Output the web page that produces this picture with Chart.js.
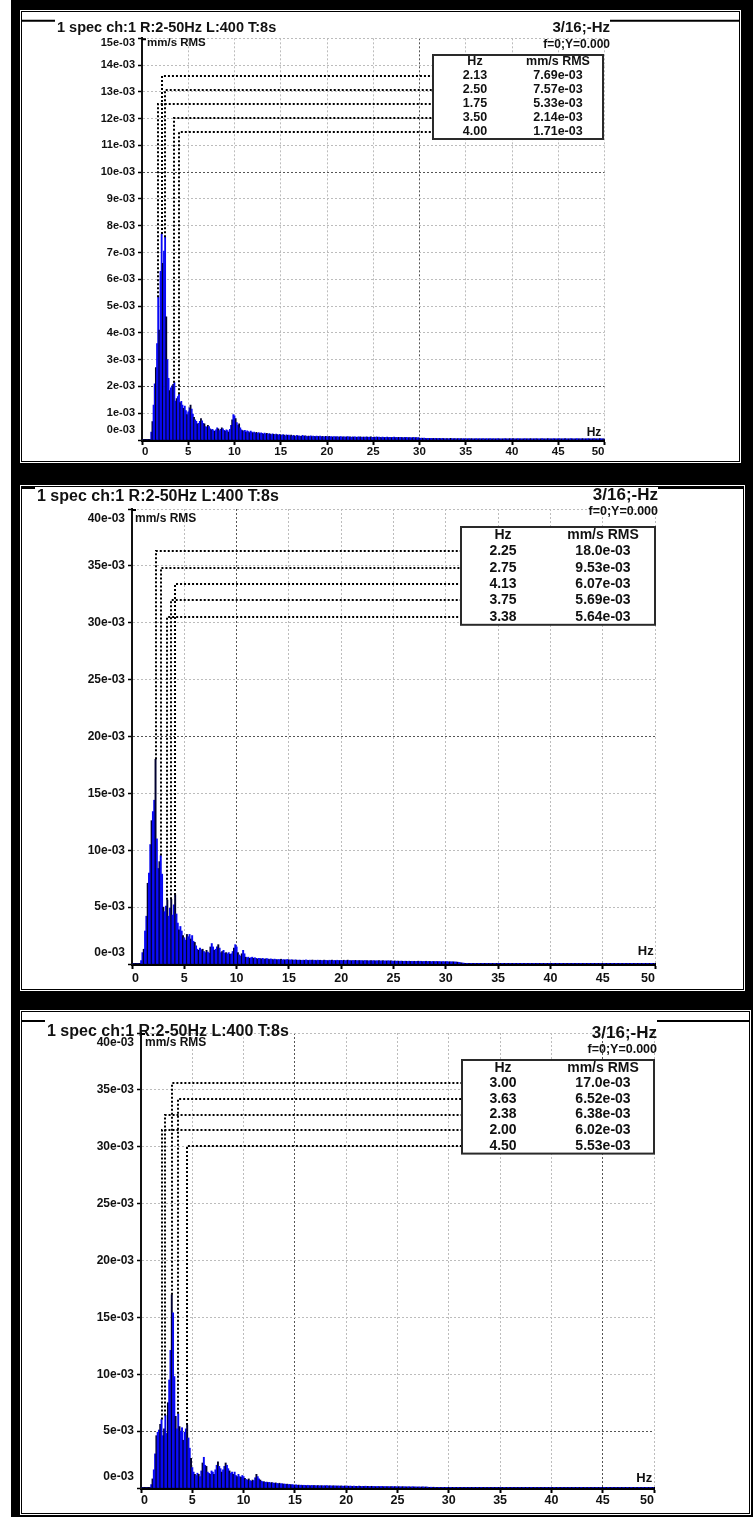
<!DOCTYPE html>
<html>
<head>
    <title>Spectrum captures</title>
    <script src="https://cdn.jsdelivr.net/npm/chart.js@4.4.0/dist/chart.umd.min.js"></script>
    <style>
        body { margin: 0; background: #fff; width: 753px; height: 1517px; position: relative; overflow: hidden; }
        .frame { position: absolute; left: 11px; top: 0; width: 742px; height: 1517px; background: #000; }
        .panel { position: absolute; left: 21px; background: #fff; border: 1px solid #000; box-sizing: border-box; box-shadow: 0 0 0 1px #fff; }
        canvas { position: absolute; left: 22px; }
    </style>
</head>
<body>
    <div class="frame"></div>
    <div class="panel" style="top:11px;width:719px;height:451px"></div>
    <div class="panel" style="top:486px;width:723px;height:504px"></div>
    <div class="panel" style="top:1011px;width:729px;height:503px"></div>
    <canvas id="c1" width="717" height="449" style="top:12px"></canvas>
    <canvas id="c2" width="721" height="502" style="top:487px"></canvas>
    <canvas id="c3" width="727" height="501" style="top:1012px"></canvas>

    <script>
        // spectrum lines: L:400 over 0-50 Hz, amplitudes in e-03 mm/s RMS
        const lineHz = 0.125;

        const spec1 = [
            0,0,0,0,0,0,0,0,
            0.30,0.69,1.30,2.10,2.70,3.60,5.33,4.10,
            6.30,7.69,6.60,7.05,7.57,4.60,3.00,2.30,
            1.85,1.95,2.02,2.08,2.14,1.45,1.55,1.62,
            1.71,1.40,1.44,1.30,1.18,1.27,1.10,0.95,
            1.05,1.20,1.30,1.15,0.97,0.85,0.75,0.70,
            0.60,0.62,0.70,0.80,0.72,0.62,0.60,0.50,
            0.48,0.55,0.50,0.42,0.38,0.40,0.35,0.32,
            0.38,0.45,0.42,0.35,0.40,0.45,0.42,0.36,
            0.33,0.38,0.35,0.30,0.40,0.55,0.75,0.95,
            0.90,0.80,0.65,0.55,0.60,0.45,0.38,0.35,
            0.33,0.36,0.30,0.34,0.31,0.28,0.33,0.30,
            0.27,0.30,0.26,0.29,0.25,0.28,0.24,0.27,
            0.25,0.22,0.26,0.23,0.25,0.21,0.24,0.22,
            0.20,0.23,0.21,0.19,0.22,0.20,0.18,0.21,
            0.19,0.17,0.20,0.18,0.16,0.19,0.17,0.18,
            0.16,0.18,0.15,0.17,0.16,0.14,0.17,0.15,
            0.16,0.14,0.15,0.17,0.14,0.16,0.15,0.13,
            0.15,0.14,0.16,0.13,0.15,0.14,0.13,0.15,
            0.14,0.13,0.15,0.12,0.14,0.13,0.12,0.14,
            0.13,0.12,0.14,0.12,0.13,0.11,0.13,0.12,
            0.12,0.13,0.11,0.12,0.13,0.11,0.12,0.12,
            0.11,0.12,0.13,0.11,0.12,0.10,0.12,0.11,
            0.12,0.11,0.10,0.12,0.11,0.12,0.10,0.11,
            0.11,0.10,0.12,0.11,0.10,0.11,0.12,0.10,
            0.10,0.11,0.10,0.12,0.10,0.11,0.10,0.09,
            0.11,0.10,0.09,0.10,0.11,0.09,0.10,0.10,
            0.09,0.10,0.11,0.09,0.10,0.09,0.10,0.09,
            0.10,0.09,0.08,0.10,0.09,0.10,0.08,0.09,
            0.09,0.08,0.09,0.10,0.08,0.09,0.08,0.09,
            0.07,0.06,0.07,0.06,0.07,0.06,0.05,0.06,
            0.06,0.05,0.06,0.05,0.06,0.05,0.06,0.05,
            0.05,0.06,0.05,0.05,0.06,0.05,0.04,0.05,
            0.05,0.04,0.05,0.06,0.05,0.04,0.05,0.05,
            0.04,0.05,0.05,0.04,0.05,0.04,0.05,0.04,
            0.05,0.04,0.04,0.05,0.04,0.05,0.04,0.04,
            0.04,0.05,0.04,0.04,0.05,0.04,0.04,0.05,
            0.04,0.04,0.05,0.04,0.04,0.05,0.04,0.04,
            0.05,0.04,0.04,0.04,0.05,0.04,0.04,0.04,
            0.04,0.04,0.05,0.04,0.04,0.04,0.05,0.04,
            0.04,0.05,0.04,0.04,0.04,0.05,0.04,0.04,
            0.04,0.04,0.04,0.05,0.04,0.04,0.04,0.04,
            0.05,0.04,0.04,0.04,0.04,0.05,0.04,0.04,
            0.04,0.04,0.05,0.04,0.04,0.04,0.04,0.05,
            0.04,0.04,0.04,0.04,0.05,0.04,0.04,0.04,
            0.04,0.05,0.04,0.04,0.04,0.04,0.05,0.04,
            0.04,0.04,0.04,0.05,0.04,0.04,0.04,0.04,
            0.05,0.04,0.04,0.04,0.04,0.05,0.04,0.04,
            0.04,0.04,0.05,0.04,0.04,0.04,0.04,0.05,
            0.04,0.04,0.04,0.04,0.05,0.04,0.04,0.04,
            0.04
        ];

        const spec2 = [
            0,0,0,0,0,0,0,0.30,
            1.00,1.30,2.90,4.20,7.10,8.00,10.5,12.6,
            13.4,14.4,18.0,11.0,8.40,9.00,9.53,7.90,
            5.00,4.60,5.10,5.64,4.20,4.90,5.69,4.30,
            5.20,6.07,4.40,3.60,3.00,3.30,2.90,2.50,
            2.30,2.10,2.60,2.40,2.60,2.20,2.50,2.00,
            1.90,1.60,1.30,1.20,1.40,1.25,1.30,1.10,
            1.00,1.20,1.05,0.95,1.50,1.80,1.50,1.20,
            1.30,1.50,1.70,1.40,1.00,1.10,1.20,0.95,
            1.00,0.90,1.00,0.85,0.90,1.10,1.40,1.70,
            1.50,1.00,0.80,0.70,0.90,1.20,0.90,0.60,
            0.55,0.60,0.50,0.55,0.60,0.50,0.55,0.50,
            0.45,0.50,0.48,0.45,0.50,0.42,0.45,0.48,
            0.44,0.40,0.45,0.42,0.38,0.43,0.40,0.37,
            0.40,0.38,0.42,0.36,0.39,0.35,0.38,0.40,
            0.36,0.34,0.38,0.35,0.33,0.37,0.34,0.32,
            0.35,0.33,0.31,0.34,0.32,0.36,0.33,0.31,
            0.34,0.32,0.35,0.31,0.33,0.30,0.34,0.32,
            0.33,0.31,0.30,0.34,0.32,0.31,0.29,0.33,
            0.31,0.34,0.30,0.32,0.29,0.33,0.31,0.30,
            0.32,0.30,0.33,0.29,0.31,0.34,0.30,0.31,
            0.29,0.31,0.30,0.32,0.28,0.30,0.31,0.29,
            0.30,0.28,0.31,0.29,0.30,0.27,0.29,0.30,
            0.28,0.30,0.27,0.29,0.28,0.30,0.27,0.28,
            0.29,0.27,0.28,0.26,0.29,0.27,0.28,0.26,
            0.25,0.27,0.24,0.26,0.25,0.23,0.26,0.24,
            0.23,0.25,0.24,0.22,0.25,0.23,0.24,0.22,
            0.24,0.22,0.23,0.25,0.22,0.24,0.21,0.23,
            0.22,0.24,0.21,0.23,0.22,0.20,0.23,0.21,
            0.21,0.23,0.20,0.22,0.21,0.19,0.22,0.20,
            0.20,0.21,0.19,0.20,0.18,0.20,0.19,0.17,
            0.18,0.16,0.14,0.12,0.10,0.08,0.07,0.06,
            0.06,0.05,0.06,0.05,0.06,0.05,0.05,0.06,
            0.05,0.06,0.05,0.05,0.06,0.05,0.06,0.05,
            0.06,0.05,0.05,0.06,0.05,0.05,0.06,0.05,
            0.05,0.06,0.05,0.05,0.05,0.06,0.05,0.05,
            0.06,0.05,0.05,0.06,0.05,0.05,0.05,0.06,
            0.05,0.05,0.06,0.05,0.05,0.06,0.05,0.05,
            0.05,0.06,0.05,0.05,0.06,0.05,0.05,0.05,
            0.06,0.05,0.05,0.05,0.06,0.05,0.05,0.06,
            0.05,0.05,0.06,0.05,0.05,0.05,0.06,0.05,
            0.05,0.06,0.05,0.05,0.05,0.06,0.05,0.05,
            0.06,0.05,0.05,0.06,0.05,0.05,0.05,0.06,
            0.05,0.05,0.05,0.06,0.05,0.05,0.06,0.05,
            0.05,0.06,0.05,0.05,0.05,0.06,0.05,0.05,
            0.06,0.05,0.05,0.05,0.06,0.05,0.05,0.05,
            0.05,0.05,0.06,0.05,0.05,0.05,0.06,0.05,
            0.05,0.06,0.05,0.05,0.05,0.05,0.06,0.05,
            0.05,0.05,0.05,0.06,0.05,0.05,0.05,0.05,
            0.06,0.05,0.05,0.05,0.05,0.06,0.05,0.05,
            0.05
        ];

        const spec3 = [
            0,0,0,0,0,0,0,0,
            0.30,0.80,1.60,3.00,4.60,4.90,5.10,5.60,
            6.02,4.60,5.20,6.38,4.80,7.50,9.50,12.1,
            17.0,15.4,9.80,6.30,5.20,6.52,5.40,5.00,
            5.30,4.20,4.90,5.20,5.53,4.40,3.50,2.60,
            1.80,1.40,1.20,1.10,1.30,1.20,1.00,1.50,
            2.20,2.70,2.00,1.90,1.40,1.30,1.20,1.50,
            1.40,1.20,1.60,2.00,2.30,1.90,1.70,1.40,
            1.60,1.90,2.20,2.00,1.70,1.50,1.30,1.40,
            1.20,1.40,1.10,1.00,1.20,1.00,0.95,1.10,
            1.00,0.85,0.75,0.70,0.80,0.65,0.60,0.70,
            0.65,0.90,1.20,1.00,0.80,0.70,0.60,0.55,
            0.55,0.50,0.52,0.48,0.50,0.45,0.48,0.44,
            0.42,0.45,0.40,0.38,0.42,0.36,0.38,0.35,
            0.35,0.32,0.34,0.30,0.32,0.28,0.30,0.27,
            0.25,0.28,0.24,0.26,0.23,0.25,0.22,0.24,
            0.23,0.21,0.24,0.22,0.20,0.23,0.21,0.22,
            0.21,0.20,0.22,0.19,0.21,0.20,0.18,0.21,
            0.19,0.21,0.18,0.20,0.19,0.17,0.20,0.18,
            0.18,0.17,0.19,0.16,0.18,0.17,0.16,0.18,
            0.16,0.18,0.15,0.17,0.16,0.14,0.17,0.15,
            0.15,0.14,0.16,0.15,0.13,0.15,0.14,0.16,
            0.14,0.15,0.13,0.14,0.15,0.13,0.14,0.12,
            0.13,0.14,0.12,0.13,0.14,0.12,0.13,0.12,
            0.12,0.13,0.11,0.12,0.13,0.11,0.12,0.11,
            0.11,0.12,0.10,0.11,0.12,0.10,0.11,0.10,
            0.10,0.11,0.09,0.10,0.11,0.09,0.10,0.09,
            0.09,0.10,0.08,0.09,0.10,0.08,0.09,0.08,
            0.07,0.06,0.07,0.06,0.07,0.05,0.06,0.06,
            0.05,0.06,0.05,0.06,0.05,0.05,0.06,0.05,
            0.05,0.05,0.06,0.05,0.04,0.05,0.05,0.06,
            0.05,0.04,0.05,0.05,0.04,0.05,0.06,0.05,
            0.04,0.05,0.04,0.05,0.05,0.04,0.05,0.04,
            0.05,0.04,0.05,0.04,0.04,0.05,0.04,0.05,
            0.04,0.04,0.05,0.04,0.05,0.04,0.04,0.05,
            0.04,0.05,0.04,0.04,0.05,0.04,0.04,0.04,
            0.05,0.04,0.04,0.05,0.04,0.04,0.05,0.04,
            0.04,0.04,0.05,0.04,0.04,0.05,0.04,0.04,
            0.04,0.05,0.04,0.04,0.04,0.05,0.04,0.04,
            0.05,0.04,0.04,0.04,0.05,0.04,0.04,0.04,
            0.04,0.04,0.05,0.04,0.04,0.04,0.05,0.04,
            0.04,0.05,0.04,0.04,0.04,0.04,0.05,0.04,
            0.04,0.04,0.04,0.05,0.04,0.04,0.04,0.04,
            0.05,0.04,0.04,0.04,0.04,0.05,0.04,0.04,
            0.04,0.04,0.05,0.04,0.04,0.04,0.04,0.05,
            0.04,0.04,0.04,0.04,0.05,0.04,0.04,0.04,
            0.04,0.05,0.04,0.04,0.04,0.04,0.05,0.04,
            0.04,0.04,0.04,0.05,0.04,0.04,0.04,0.04,
            0.05,0.04,0.04,0.04,0.04,0.05,0.04,0.04,
            0.04,0.04,0.05,0.04,0.04,0.04,0.04,0.04,
            0.04
        ];

        // peak tables (Hz, e-03 mm/s RMS)
        const peakHz1 = [2.125, 2.5, 1.75, 3.5, 4.0];
        const peakAmp1 = [7.69, 7.57, 5.33, 2.14, 1.71];
        const peakHz2 = [2.25, 2.75, 4.125, 3.75, 3.375];
        const peakAmp2 = [18.0, 9.53, 6.07, 5.69, 5.64];
        const peakHz3 = [3.0, 3.625, 2.375, 2.0, 4.5];
        const peakAmp3 = [17.0, 6.52, 6.38, 6.02, 5.53];

        const yMax = [15, 40, 40];
        const yStep = [1, 5, 5];

        const titleText = '1 spec ch:1 R:2-50Hz L:400 T:8s';
        const cursorText = '3/16;-Hz';
        const cursorInfo = 'f=0;Y=0.000';
        const unitText = 'mm/s RMS';

        const FONT = '"Liberation Sans", Arial, sans-serif';
        Chart.defaults.font.family = FONT;

        function fmtAmp(v) {
            return (v >= 10 ? v.toFixed(1) : v.toFixed(2)) + 'e-03';
        }

        function spectrum(id, spec, peakHz, peakAmp, st) {
            const deco = {
                id: 'deco',
                afterDatasetsDraw(chart) {
                    const {ctx, chartArea: a, scales: {x, y}} = chart;
                    const t = st.table;
                    const bl = a.right + t.dx - t.w, bt = a.top + t.dy, bh = t.rowH * 6;
                    ctx.save();
                    // cursor lines from each peak to its table row
                    ctx.strokeStyle = '#000';
                    ctx.lineWidth = 2;
                    ctx.setLineDash([2, 2]);
                    peakHz.forEach((f, i) => {
                        const px = Math.round(x.getPixelForValue(f));
                        const py = y.getPixelForValue(peakAmp[i]);
                        const ry = Math.round(bt + t.rowH * (i + 1.5));
                        ctx.beginPath();
                        ctx.moveTo(px, py);
                        ctx.lineTo(px, ry);
                        ctx.lineTo(bl, ry);
                        ctx.stroke();
                    });
                    ctx.setLineDash([]);
                    ctx.fillStyle = '#fff';
                    ctx.fillRect(bl, bt, t.w, bh);
                    ctx.strokeStyle = '#2a2a2a';
                    ctx.strokeRect(bl, bt, t.w, bh);
                    ctx.fillStyle = '#111';
                    ctx.textAlign = 'center';
                    ctx.textBaseline = 'middle';
                    ctx.font = `bold ${t.font}px ${FONT}`;
                    ctx.fillText('Hz', bl + t.c1, bt + t.rowH * 0.5);
                    ctx.fillText(unitText, bl + t.c2, bt + t.rowH * 0.5);
                    peakHz.forEach((f, i) => {
                        const ry = bt + t.rowH * (i + 1.5);
                        ctx.fillText(f.toFixed(2), bl + t.c1, ry);
                        ctx.fillText(fmtAmp(peakAmp[i]), bl + t.c2, ry);
                    });
                    ctx.restore();
                },
                afterDraw(chart) {
                    const {ctx, chartArea: a, scales: {y}} = chart;
                    ctx.save();
                    ctx.fillStyle = '#111';
                    ctx.textBaseline = 'middle';
                    // y labels, end ones pulled inside the axis
                    ctx.font = `bold ${st.yFont}px ${FONT}`;
                    ctx.textAlign = 'right';
                    y.ticks.forEach(tk => {
                        let py = y.getPixelForValue(tk.value);
                        if (tk.value === y.min) py -= st.yOffMin;
                        if (tk.value === y.max) py += st.yOffMax;
                        ctx.fillText(tk.value + 'e-03', a.left - 7, py);
                    });
                    ctx.textAlign = 'left';
                    ctx.font = `bold ${st.titleFont}px ${FONT}`;
                    ctx.fillText(titleText, st.titleX, st.titleY);
                    ctx.font = `bold ${st.unitFont}px ${FONT}`;
                    ctx.fillText(unitText, st.unitX, st.unitY);
                    ctx.textAlign = 'right';
                    ctx.font = `bold ${st.r1Font}px ${FONT}`;
                    ctx.fillText(cursorText, st.rightX, st.r1Y);
                    ctx.font = `bold ${st.r2Font}px ${FONT}`;
                    ctx.fillText(cursorInfo, st.rightX, st.r2Y);
                    ctx.textAlign = 'center';
                    ctx.font = `bold ${st.hzFont}px ${FONT}`;
                    ctx.fillText('Hz', st.hzX, st.hzY);
                    // group box top edge
                    ctx.strokeStyle = '#000';
                    ctx.lineWidth = 2;
                    ctx.beginPath();
                    ctx.moveTo(0, st.lineY);
                    ctx.lineTo(st.lineL, st.lineY);
                    ctx.moveTo(st.lineR, st.lineY);
                    ctx.lineTo(chart.width, st.lineY);
                    ctx.moveTo(a.left, a.top + 1);
                    ctx.lineTo(a.left + 4, a.top + 1);
                    ctx.stroke();
                    ctx.restore();
                }
            };

            const gridColor = dark => c => (c.tick && dark.includes(c.tick.value)) ? '#555' : '#bcbcbc';

            return new Chart(document.getElementById(id), {
                type: 'bar',
                data: {
                    datasets: [{
                        data: spec.map((v, i) => ({x: i * lineHz, y: v})),
                        backgroundColor: c => c.dataIndex % 3 === 0 ? '#000030' : '#0808f4',
                        borderWidth: 0,
                        barPercentage: 1,
                        categoryPercentage: 1
                    }]
                },
                options: {
                    responsive: false,
                    animation: false,
                    devicePixelRatio: 1,
                    events: [],
                    layout: { padding: { left: 0, top: st.top, right: st.right, bottom: 0 } },
                    plugins: { legend: { display: false }, tooltip: { enabled: false } },
                    scales: {
                        x: {
                            type: 'linear', min: 0, max: 50, offset: false,
                            grid: { offset: false, color: gridColor(st.darkX), tickLength: 5, tickColor: '#000', tickWidth: 2 },
                            border: { color: '#000', width: 3, dash: [2, 2] },
                            ticks: { stepSize: 5, align: 'inner', autoSkip: false, maxRotation: 0, padding: st.xPad,
                                     color: '#111', font: { size: st.xFont, weight: 'bold' } },
                            afterFit: s => { s.height = st.xH; }
                        },
                        y: {
                            min: 0, max: st.yMax,
                            grid: { color: gridColor(st.darkY), tickLength: 4, tickColor: '#000', tickWidth: 1.5 },
                            border: { color: '#111', width: 2, dash: [2, 2] },
                            ticks: { stepSize: st.yStep, display: false },
                            afterFit: s => { s.width = st.left; }
                        }
                    }
                },
                plugins: [deco]
            });
        }

        spectrum('c1', spec1, peakHz1, peakAmp1, {
            left: 120, right: 134.5, top: 26.3, xH: 21, yMax: yMax[0], yStep: yStep[0],
            darkX: [30], darkY: [2, 10], xFont: 11.5, xPad: 0, yFont: 11, yOffMin: 10, yOffMax: 4.7,
            titleX: 35, titleY: 16.3, titleFont: 14.5, rightX: 588, r1Y: 16.3, r1Font: 15, r2Y: 32.3, r2Font: 12,
            lineY: 8.7, lineL: 33, lineR: 588, unitX: 125, unitY: 31.3, unitFont: 11.5, hzX: 572, hzY: 420.7, hzFont: 12,
            table: { w: 170, dx: -1.5, dy: 16.7, rowH: 14, c1: 42, c2: 125, font: 12.5 }
        });

        spectrum('c2', spec2, peakHz2, peakAmp2, {
            left: 110, right: 88, top: 22, xH: 25, yMax: yMax[1], yStep: yStep[1],
            darkX: [10], darkY: [20], xFont: 12.5, xPad: 2, yFont: 12, yOffMin: 11, yOffMax: 10,
            titleX: 15, titleY: 9.7, titleFont: 16, rightX: 636, r1Y: 8, r1Font: 17, r2Y: 24.7, r2Font: 12.5,
            lineY: 1, lineL: 13, lineR: 636, unitX: 113, unitY: 32, unitFont: 12, hzX: 623.7, hzY: 464.7, hzFont: 13,
            table: { w: 194, dx: 0, dy: 18, rowH: 16.3, c1: 42, c2: 142, font: 14 }
        });

        spectrum('c3', spec3, peakHz3, peakAmp3, {
            left: 119, right: 95, top: 21, xH: 25, yMax: yMax[2], yStep: yStep[2],
            darkX: [15, 45], darkY: [5], xFont: 12.5, xPad: 0, yFont: 12, yOffMin: 11, yOffMax: 10,
            titleX: 25, titleY: 19.7, titleFont: 16, rightX: 635, r1Y: 21.3, r1Font: 17, r2Y: 38, r2Font: 12.5,
            lineY: 9, lineL: 23, lineR: 635, unitX: 123, unitY: 31, unitFont: 12, hzX: 622.3, hzY: 466.3, hzFont: 13,
            table: { w: 192, dx: 0, dy: 27, rowH: 15.6, c1: 41, c2: 141, font: 14 }
        });
    </script>
</body>
</html>
